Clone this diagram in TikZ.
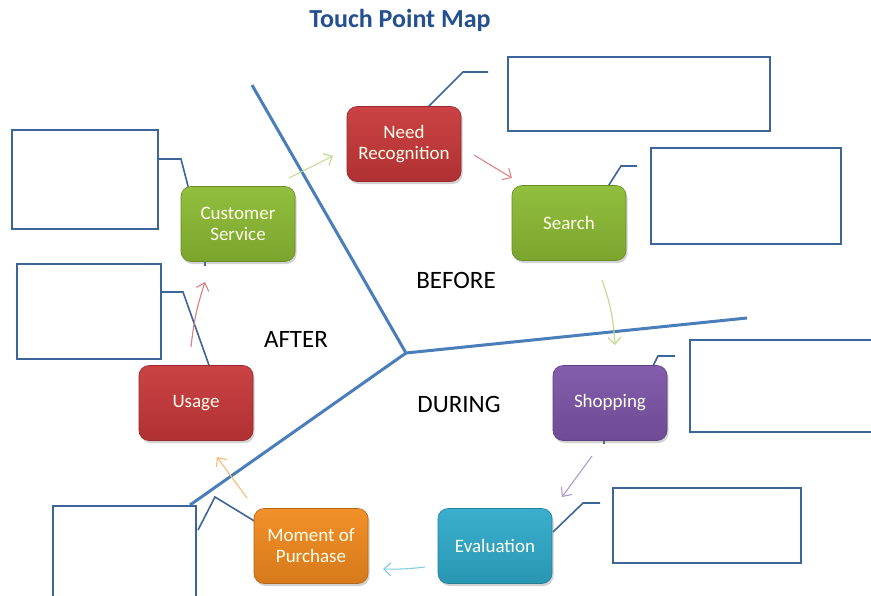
\documentclass[tikz,border=0pt]{standalone}
\usepackage{fontspec}
\setmainfont{Carlito}
\usetikzlibrary{shadows,arrows.meta}
\definecolor{titleblue}{HTML}{24508F}
\definecolor{boxblue}{HTML}{3D6597}
\definecolor{axisblue}{HTML}{4A7EBB}
\definecolor{cred}{HTML}{C8383A}
\definecolor{cgreen}{HTML}{8CBB34}
\definecolor{cpurple}{HTML}{7D55A8}
\definecolor{ccyan}{HTML}{2FABCB}
\definecolor{corange}{HTML}{F28A1E}
\tikzset{
  stage/.style={rounded corners=10pt, minimum width=114pt, minimum height=75pt,
    inner sep=0pt, align=center, text=white!92!yellow, font=\fontsize{19}{21}\selectfont,
    top color=#1!95!white, bottom color=#1!88!black, draw=#1!75!black, line width=0.6pt,
    drop shadow={shadow xshift=1.5pt, shadow yshift=-2.5pt, opacity=0.35}},
  blank/.style={draw=boxblue, line width=1.8pt, fill=white},
  leader/.style={draw=boxblue, line width=1.6pt},
  axis/.style={draw=axisblue, line width=3pt},
  flow/.style={line width=1.1pt, -{Straight Barb[length=7pt,width=13pt]}},
  region/.style={font=\fontsize{25}{28}\selectfont, text=black}
}
\begin{document}
\begin{tikzpicture}[x=1pt,y=-1pt]
\useasboundingbox (0,0) rectangle (871,595);
\fill[white] (0,0) rectangle (871,595);

% title
\node[font=\bfseries\fontsize{26}{30}\selectfont, text=titleblue] (title) at (400,20) {Touch Point Map};

% axes
\coordinate (hub) at (406,353);
\coordinate (axtop) at (252,85);
\coordinate (axright) at (747,318);
\coordinate (axleft) at (190,505);
\draw[axis] (axtop) -- (hub) -- (axright);
\draw[axis] (hub) -- (axleft);

% blank callout boxes
\draw[blank] (508,57) rectangle (770,131);
\draw[blank] (651,148) rectangle (841,244);
\draw[blank] (690,340) rectangle (878,432);
\draw[blank] (613,488) rectangle (801,563);
\draw[blank] (12,130) rectangle (158,229);
\draw[blank] (17,264) rectangle (161,359);
\draw[blank] (53,506) rectangle (196,600);

% leader lines
\draw[leader] (427,108) -- (463,72) -- (488,72);
\draw[leader] (607,188) -- (621,166) -- (637,166);
\draw[leader] (652,368) -- (658,356) -- (675,356);
\draw[leader] (553,532) -- (583,503) -- (600,503);
\draw[leader] (158,159) -- (181,159) -- (189,190);
\draw[leader] (161,292) -- (183,292) -- (210,368);
\draw[leader] (256,522) -- (215,497) -- (198,530);
\draw[leader] (205,258) -- (205,266);
\draw[leader] (604,436) -- (604,444);

% stages
\node[stage=cred] (need) at (404,144) {Need\\Recognition};
\node[stage=cgreen] (cust) at (238,224) {Customer\\Service};
\node[stage=cgreen] (search) at (569,223) {Search};
\node[stage=cpurple] (shop) at (610,403) {Shopping};
\node[stage=cred] (usage) at (196,403) {Usage};
\node[stage=corange] (mop) at (311,546) {Moment of\\Purchase};
\node[stage=ccyan] (eval) at (495,546) {Evaluation};

% region labels
\node[region] (before) at (456,280) {BEFORE};
\node[region] (after) at (296,339) {AFTER};
\node[region] (during) at (459,404) {DURING};

% flow arrows
\coordinate (a1s) at (289,178); \coordinate (a1e) at (333,156);
\coordinate (a2s) at (474,155); \coordinate (a2e) at (512,178);
\coordinate (a3s) at (602,280); \coordinate (a3e) at (615,345);
\coordinate (a4s) at (592,456); \coordinate (a4e) at (562,497);
\coordinate (a5s) at (425,567); \coordinate (a5e) at (383,569);
\coordinate (a6s) at (247,498); \coordinate (a6e) at (217,457);
\coordinate (a7s) at (191,347); \coordinate (a7e) at (205,282);
\draw[flow, draw=cgreen!55!white] (a1s) -- (a1e);
\draw[flow, draw=cred!60!white] (a2s) -- (a2e);
\draw[flow, draw=cgreen!55!white] (a3s) to[bend left=8] (a3e);
\draw[flow, draw=cpurple!60!white] (a4s) -- (a4e);
\draw[flow, draw=ccyan!60!white] (a5s) to[bend left=4] (a5e);
\draw[flow, draw=corange!60!white] (a6s) -- (a6e);
\draw[flow, draw=cred!65!white] (a7s) to[bend left=6] (a7e);
\end{tikzpicture}
\end{document}
